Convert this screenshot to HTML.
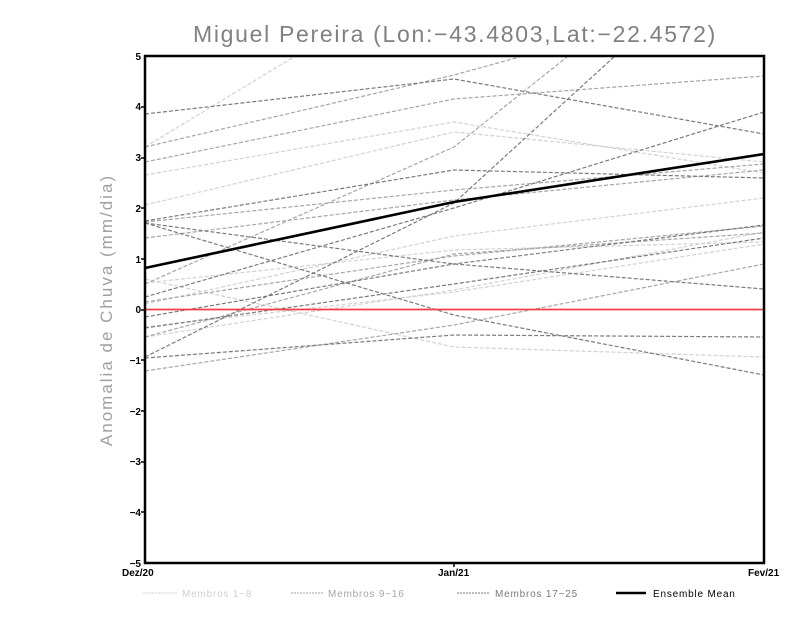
<!DOCTYPE html>
<html><head><meta charset="utf-8"><style>
html,body{margin:0;padding:0;background:#fff;}
svg{display:block;font-family:"Liberation Sans",sans-serif;}
</style></head><body>
<svg width="800" height="618" viewBox="0 0 800 618" xmlns="http://www.w3.org/2000/svg">
<defs><clipPath id="c"><rect x="145" y="56" width="619" height="507"/></clipPath></defs>
<text x="455" y="42" text-anchor="middle" font-size="23" fill="#808080" letter-spacing="1.7">Miguel Pereira (Lon:−43.4803,Lat:−22.4572)</text>
<text transform="translate(112,310) rotate(-90)" text-anchor="middle" font-size="17" fill="#a0a0a0" letter-spacing="2">Anomalia de Chuva (mm/dia)</text>
<g clip-path="url(#c)" fill="none" stroke-width="1.2" stroke-dasharray="4,2">
<g stroke="#d2d2d2">
<polyline points="145,147 454,-40"/>
<polyline points="145,175 454,122 764,173"/>
<polyline points="145,205 454,132 764,162"/>
<polyline points="145,279 454,347 764,357"/>
<polyline points="145,304 454,236 764,198"/>
<polyline points="145,327 454,292 764,244"/>
<polyline points="145,283 454,250 764,242"/>
<polyline points="145,337 454,290 764,232"/>
</g>
<g stroke="#a6a6a6">
<polyline points="145,162 454,99 764,76"/>
<polyline points="145,147 454,75 764,-10"/>
<polyline points="145,284 454,147 764,-100"/>
<polyline points="145,371 454,325 764,264"/>
<polyline points="145,302 454,256 764,226"/>
<polyline points="145,337 454,254 764,233"/>
<polyline points="145,238 454,200 764,170"/>
<polyline points="145,222 454,190 764,164"/>
</g>
<g stroke="#7a7a7a">
<polyline points="145,114 454,79 764,134"/>
<polyline points="145,221 454,170 764,178"/>
<polyline points="145,223 454,264 764,289"/>
<polyline points="145,223 454,315 764,375"/>
<polyline points="145,297 454,208 764,112"/>
<polyline points="145,317 454,264 764,225"/>
<polyline points="145,328 454,284 764,238"/>
<polyline points="145,357 454,203 764,-80"/>
<polyline points="145,358 454,335 764,337"/>
</g>
</g>
<line x1="145" y1="309.5" x2="764" y2="309.5" stroke="#f04040" stroke-width="1.8"/>
<polyline points="145,268 454,202 764,154" fill="none" stroke="#000" stroke-width="2.6"/>
<rect x="145" y="56" width="619" height="507" fill="none" stroke="#000" stroke-width="2.5"/>
<g font-size="10" font-weight="bold" text-anchor="end" fill="#000">
<text x="141" y="60">5</text><text x="141" y="110">4</text><text x="141" y="161">3</text>
<text x="141" y="212">2</text><text x="141" y="263">1</text><text x="141" y="313">0</text>
<text x="141" y="364">−1</text><text x="141" y="415">−2</text><text x="141" y="465">−3</text>
<text x="141" y="516">−4</text><text x="141" y="567">−5</text>
</g>
<g font-size="10" font-weight="bold" fill="#000">
<text x="122" y="576">Dez/20</text><text x="438" y="576">Jan/21</text><text x="748" y="576">Fev/21</text>
</g>
<g stroke="#000" stroke-width="1.5">
<line x1="141" y1="107" x2="145" y2="107"/><line x1="141" y1="158" x2="145" y2="158"/>
<line x1="141" y1="208" x2="145" y2="208"/><line x1="141" y1="259" x2="145" y2="259"/>
<line x1="141" y1="310" x2="145" y2="310"/><line x1="141" y1="360" x2="145" y2="360"/>
<line x1="141" y1="411" x2="145" y2="411"/><line x1="141" y1="462" x2="145" y2="462"/>
<line x1="141" y1="512" x2="145" y2="512"/><line x1="454" y1="563" x2="454" y2="567"/>
</g>
<g font-size="10" letter-spacing="0.8">
<line x1="143" y1="593" x2="177" y2="593" stroke="#d2d2d2" stroke-dasharray="2,1"/>
<text x="182" y="597" fill="#cfcfcf">Membros 1−8</text>
<line x1="291" y1="593" x2="323" y2="593" stroke="#a6a6a6" stroke-dasharray="2,1"/>
<text x="328" y="597" fill="#a6a6a6">Membros 9−16</text>
<line x1="457" y1="593" x2="489" y2="593" stroke="#7a7a7a" stroke-dasharray="2,1"/>
<text x="495" y="597" fill="#7a7a7a">Membros 17−25</text>
<line x1="616" y1="593" x2="646" y2="593" stroke="#000" stroke-width="2.5"/>
<text x="653" y="597" fill="#000">Ensemble Mean</text>
</g>
</svg>
</body></html>
